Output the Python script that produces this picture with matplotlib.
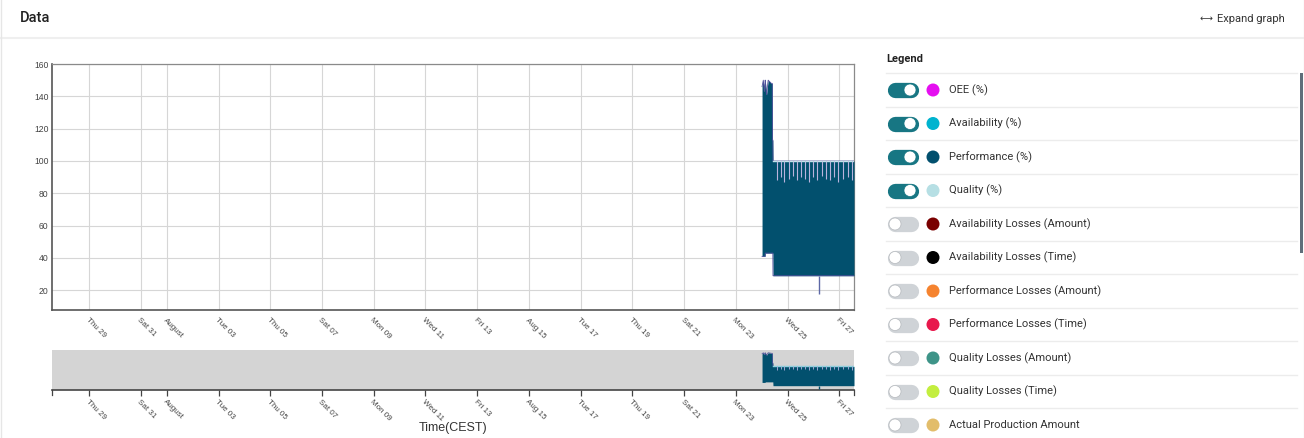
import matplotlib
matplotlib.use('Agg')
import matplotlib.pyplot as plt
from matplotlib.patches import Circle, Rectangle
import pandas as pd

W, H = 1304, 438

# visible time window (CEST)
x_start = '2021-07-27 13:25'
x_end = '2021-08-27 13:40'

tick_dates = ['2021-07-29', '2021-07-31', '2021-08-01', '2021-08-03', '2021-08-05',
              '2021-08-07', '2021-08-09', '2021-08-11', '2021-08-13', '2021-08-15',
              '2021-08-17', '2021-08-19', '2021-08-21', '2021-08-23', '2021-08-25',
              '2021-08-27']
tick_labels = ['Thu 29', 'Sat 31', 'August', 'Tue 03', 'Thu 05', 'Sat 07', 'Mon 09',
               'Wed 11', 'Fri 13', 'Aug 15', 'Tue 17', 'Thu 19', 'Sat 21', 'Mon 23',
               'Wed 25', 'Fri 27']
y_ticks = [20, 40, 60, 80, 100, 120, 140, 160]

# envelope of the dense KPI traces (Performance fills the band)
band_t = ['2021-08-24 00:20', '2021-08-24 01:30', '2021-08-24 02:30', '2021-08-24 03:10',
          '2021-08-24 03:20', '2021-08-24 04:30', '2021-08-24 06:00', '2021-08-24 07:30',
          '2021-08-24 09:00', '2021-08-24 09:50', '2021-08-24 10:00', '2021-08-24 10:20',
          '2021-08-24 10:30', '2021-08-27 13:40']
band_hi = [146, 150, 143, 150, 150, 141, 150, 149, 148, 148, 113, 113, 100, 100]
band_lo = [41, 41, 41, 41, 43, 43, 43, 43, 43, 43, 43, 43, 29, 29]

# Quality / Availability sitting at 100 %
qual_t = ['2021-08-24 10:30', '2021-08-27 13:40']
qual_v = [100, 100]

# short drops of the Performance trace below 100 %
notch_t = ['2021-08-24 13:55', '2021-08-24 18:00', '2021-08-24 21:00', '2021-08-25 01:05',
           '2021-08-25 05:20', '2021-08-25 08:30', '2021-08-25 12:30', '2021-08-25 16:10',
           '2021-08-25 20:10', '2021-08-26 00:00', '2021-08-26 03:40', '2021-08-26 07:40',
           '2021-08-26 11:30', '2021-08-26 15:25', '2021-08-26 19:10', '2021-08-26 23:05',
           '2021-08-27 03:50', '2021-08-27 07:50', '2021-08-27 11:35']
notch_v = [88, 90, 87, 89, 91, 88, 90, 89, 87, 90, 88, 91, 89, 88, 90, 87, 89, 90, 88]

spike_t = ['2021-08-26 05:15']
spike_v = [18]
spike_base = [29]

legend_labels = ['OEE (%)', 'Availability (%)', 'Performance (%)', 'Quality (%)',
                 'Availability Losses (Amount)', 'Availability Losses (Time)',
                 'Performance Losses (Amount)', 'Performance Losses (Time)',
                 'Quality Losses (Amount)', 'Quality Losses (Time)',
                 'Actual Production Amount']
legend_colors = ['#e50ff0', '#00b3cf', '#02506e', '#b6dfe4', '#7a0000', '#000000',
                 '#f5832f', '#e8184c', '#3e9488', '#c3ee3f', '#e2bd6b']
legend_on = [True, True, True, True, False, False, False, False, False, False, False]

PERF = '#02506e'
EDGE = '#51509c'
TICK_FS = 5.8

band_t = pd.to_datetime(band_t)
qual_t = pd.to_datetime(qual_t)
notch_t = pd.to_datetime(notch_t)
spike_t = pd.to_datetime(spike_t)
xlim = (pd.Timestamp(x_start), pd.Timestamp(x_end))
ticks = pd.to_datetime(tick_dates)

fig = plt.figure(figsize=(W / 100, H / 100), dpi=100)
fig.patch.set_facecolor('white')


def box(l, t, r, b):
    return [l / W, 1 - b / H, (r - l) / W, (b - t) / H]


# ---------- main chart ----------
ax = fig.add_axes(box(52, 64, 854, 310))
ax.fill_between(band_t, band_lo, band_hi, color=PERF, lw=0, zorder=3)
ax.plot(band_t, band_hi, color=EDGE, lw=0.6, zorder=4)
ax.plot(band_t, band_lo, color=EDGE, lw=0.6, zorder=4)
ax.plot(qual_t, qual_v, color='#c4e4ea', lw=1.0, zorder=5)
ax.vlines(notch_t, notch_v, 100, color='#b9b3dd', lw=0.8, zorder=5)
ax.vlines(spike_t, spike_v, spike_base, color='#5d68a6', lw=1.0, zorder=4)

ax.set_xlim(*xlim)
ax.set_ylim(7.8, 160)
ax.set_yticks(y_ticks)
ax.set_yticklabels([str(v) for v in y_ticks], fontsize=6.2, color='#444444',
                   family='Liberation Sans')
ax.set_xticks(ticks)
ax.set_xticklabels(tick_labels, rotation=-45, ha='left', va='top',
                   rotation_mode='anchor', fontsize=TICK_FS, color='#444444',
                   family='Liberation Sans')
ax.tick_params(axis='both', length=0)
ax.tick_params(axis='y', pad=2.5)
ax.tick_params(axis='x', pad=5)
ax.grid(color='#d6d6d6', lw=0.8)
ax.set_axisbelow(True)
for s in ['left', 'bottom']:
    ax.spines[s].set_color('#555555')
    ax.spines[s].set_linewidth(1.2)
for s in ['top', 'right']:
    ax.spines[s].set_color('#8a8a8a')
    ax.spines[s].set_linewidth(0.9)

# ---------- navigator ----------
nav = fig.add_axes(box(52, 350, 854, 389.5))
nav.set_facecolor('#d4d4d4')
nav.fill_between(band_t, band_lo, band_hi, color=PERF, lw=0, zorder=3)
nav.plot(band_t, band_hi, color=EDGE, lw=0.5, zorder=4)
nav.plot(qual_t, qual_v, color='#8fd2de', lw=1.0, zorder=5)
nav.vlines(notch_t, notch_v, 100, color='#9ea6d2', lw=0.7, zorder=5)
nav.vlines(spike_t, spike_v, spike_base, color=PERF, lw=1.0, zorder=4)
nav.set_xlim(*xlim)
nav.set_ylim(15, 160)
nav.set_yticks([])
nav.set_xticks(ticks)
nav.set_xticklabels(tick_labels, rotation=-45, ha='left', va='top',
                    rotation_mode='anchor', fontsize=TICK_FS, color='#444444',
                    family='Liberation Sans')
nav.tick_params(axis='x', length=4, width=0.9, color='#444444', pad=2.5)
for s in ['left', 'right', 'top']:
    nav.spines[s].set_visible(False)
nav.spines['bottom'].set_color('#444444')
nav.spines['bottom'].set_linewidth(1.2)
for xe in [0, 1]:
    nav.plot([xe, xe], [0, -0.13], transform=nav.transAxes, color='#444444',
             lw=0.9, clip_on=False)

# ---------- page furniture / legend panel ----------
ui = fig.add_axes([0, 0, 1, 1], zorder=-1)
ui.set_xlim(0, W)
ui.set_ylim(H, 0)
ui.axis('off')

ui.plot([0, W], [37.5, 37.5], color='#efefef', lw=1.5)
ui.plot([0.5, 0.5], [0, H], color='#e6e6e6', lw=1)
ui.plot([W - 0.5, W - 0.5], [0, H], color='#ececec', lw=1)
ui.text(20, 18.5, 'Data', fontsize=10.5, color='#222222', va='center', ha='left',
        family=['Roboto', 'DejaVu Sans'], fontweight='medium')
ui.text(1200, 18.5, '⟷', fontsize=6.5, color='#333333', va='center', ha='left',
        family=['DejaVu Sans'])
ui.text(1217, 18.5, 'Expand graph', fontsize=8, color='#333333', va='center', ha='left',
        family=['Roboto', 'DejaVu Sans'])
ui.text(453, 428, 'Time(CEST)', fontsize=9, color='#333333', va='center', ha='center',
        family='Liberation Sans')

ui.text(886, 58.5, 'Legend', fontsize=8, color='#222222', va='center', ha='left',
        family=['Roboto', 'DejaVu Sans'], fontweight='bold')

row_h = 33.5
for i, (lab, col, on) in enumerate(zip(legend_labels, legend_colors, legend_on)):
    cy = 90 + i * row_h
    ui.plot([886, 1297], [cy - row_h / 2, cy - row_h / 2], color='#ececec', lw=1)
    track = '#177683' if on else '#cfd3d7'
    ui.plot([894.5, 910.5], [cy, cy], color=track, lw=11, solid_capstyle='round')
    kx = 910 if on else 895
    ui.add_patch(Circle((kx, cy), 6.0, facecolor='white',
                        edgecolor='#177683' if on else '#b5b9bd', lw=0.5, zorder=3))
    ui.add_patch(Circle((933, cy), 6.5, facecolor=col, edgecolor='none', zorder=3))
    ui.text(949, cy, lab, fontsize=8, color='#333333', va='center', ha='left',
            family=['Roboto', 'DejaVu Sans'])

ui.add_patch(Rectangle((1299.5, 73), 3.5, 180, facecolor='#5f6e7a', edgecolor='none'))

fig.savefig('out.png', dpi=100)
